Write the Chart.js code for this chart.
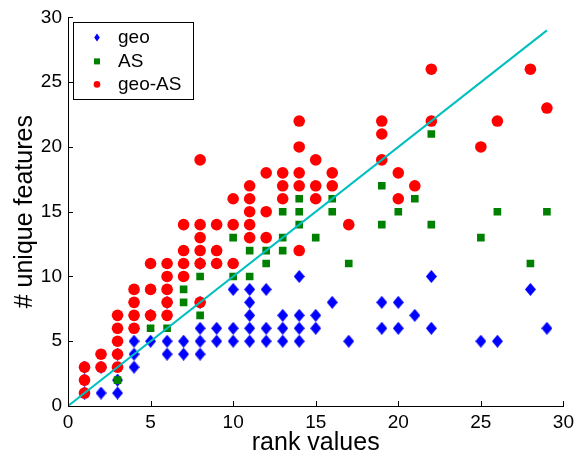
<!DOCTYPE html>
<html>
<head>
<meta charset="utf-8">
<script src="https://cdn.jsdelivr.net/npm/chart.js@4.4.1/dist/chart.umd.min.js"></script>
<style>
  html, body { margin: 0; padding: 0; background: #fff; }
  #wrap { width: 579px; height: 461px; }
</style>
</head>
<body>
<div id="wrap"><canvas id="chart-scatter" width="579" height="461"></canvas></div>
<script>
// ---- data ----
const geoRank  = [1,1,1, 2,2, 3,3,3, 4,4,4, 5,5, 6,6,6, 7,7, 8,8,8,8,8, 9,9, 10,10,10, 11,11,11,11,11, 12,12,12, 13,13,13, 14,14,14,14, 15,15, 16, 17, 19,19, 20,20, 21, 22,22, 25, 26, 28, 29];
const geoCount = [1,2,3, 1,3, 1,2,4, 3,4,5, 5,7, 4,5,8, 4,5, 4,5,6,8,11, 5,6, 5,6,9,   5,6,7,8,9,      5,6,9,    5,6,7,    5,6,7,10,    6,7,   8,  5,  6,8,   6,8,   7,  6,10,  5,  5,  9,  6];

const asRank  = [3, 5,5, 6, 7,7, 8,8, 10,10, 11,11, 12,12, 13,13,13, 14,14,14,14, 15, 16,16, 17, 19,19, 20, 21, 22,22, 25, 26, 28, 29];
const asCount = [2, 6,9, 6, 8,9, 7,10, 10,13, 10,12, 11,12, 12,13,15, 14,15,16,18, 13, 15,16, 11, 14,17, 15, 16, 14,21, 13, 15, 11, 15];

const geoAsRank  = [1,1,1, 2,2, 3,3,3,3,3, 4,4,4,4, 5,5,5, 6,6,6,6,6, 7,7,7,7, 8,8,8,8,8,8, 9,9,9, 10,10,10, 11,11,11,11,11, 12,12,12, 13,13,13, 14,14,14,14,14, 15,15,15, 16,16, 17, 19,19,19, 20,20, 21, 22,22, 25, 26, 28, 29];
const geoAsCount = [1,2,3, 3,4, 3,4,5,6,7, 6,7,8,9,  7,9,11, 7,8,9,10,11, 10,11,12,14, 8,11,12,13,14,19, 11,12,14, 11,14,16, 13,14,15,16,17, 13,15,18, 16,17,18, 12,17,18,20,22, 16,17,19, 17,18, 14, 19,21,22, 16,18, 17, 22,26, 20, 22, 26, 23];

const fitRank  = [0, 29];
const fitCount = [0, 29];

const xTicks = [0, 5, 10, 15, 20, 25, 30];
const yTicks = [0, 5, 10, 15, 20, 25, 30];

const seriesNames = ["geo", "AS", "geo-AS"];

function zip(xs, ys) {
  return xs.map((x, i) => ({ x: x, y: ys[i] }));
}

// MATLAB-like diamond (taller than wide)
function diamondImage(w, h, color) {
  const c = document.createElement("canvas");
  c.width = w; c.height = h;
  const g = c.getContext("2d");
  g.fillStyle = color;
  g.beginPath();
  g.moveTo(w / 2, 0);
  g.lineTo(w, h / 2);
  g.lineTo(w / 2, h);
  g.lineTo(0, h / 2);
  g.closePath();
  g.fill();
  return c;
}

const FONT = "'Liberation Sans', Arial, Helvetica, sans-serif";

// inward tick marks, no box
const innerTicks = {
  id: "innerTicks",
  afterDraw(chart) {
    const { ctx, chartArea, scales } = chart;
    ctx.save();
    ctx.strokeStyle = "#000";
    ctx.lineWidth = 1;
    ctx.beginPath();
    xTicks.forEach((v) => {
      const px = Math.round(scales.x.getPixelForValue(v)) + 0.5;
      ctx.moveTo(px, chartArea.bottom);
      ctx.lineTo(px, chartArea.bottom - 5);
    });
    yTicks.forEach((v) => {
      const py = Math.round(scales.y.getPixelForValue(v)) + 0.5;
      ctx.moveTo(chartArea.left, py);
      ctx.lineTo(chartArea.left + 5, py);
    });
    ctx.stroke();
    ctx.restore();
  },
};

// boxed legend in the upper left corner
const boxLegend = {
  id: "boxLegend",
  afterDraw(chart) {
    const { ctx, chartArea } = chart;
    const x0 = chartArea.left + 5, y0 = chartArea.top + 5;
    const w = 120, h = 77;
    ctx.save();
    ctx.fillStyle = "#fff";
    ctx.fillRect(x0, y0, w, h);
    ctx.strokeStyle = "#000";
    ctx.lineWidth = 1;
    ctx.strokeRect(Math.round(x0) + 0.5, Math.round(y0) + 0.5, w, h);

    const mx = x0 + 24, tx = x0 + 45;
    const rows = [y0 + 15, y0 + 39, y0 + 62];
    ctx.font = "19px " + FONT;
    ctx.textBaseline = "middle";
    ctx.fillStyle = "#000";
    seriesNames.forEach((name, i) => {
      ctx.fillText(name, tx, rows[i]);
    });

    // markers
    ctx.fillStyle = "#0000FF";
    ctx.beginPath();
    ctx.moveTo(mx, rows[0] - 4);
    ctx.lineTo(mx + 2.8, rows[0]);
    ctx.lineTo(mx, rows[0] + 4);
    ctx.lineTo(mx - 2.8, rows[0]);
    ctx.closePath();
    ctx.fill();

    ctx.fillStyle = "#008000";
    ctx.fillRect(mx - 3, rows[1] - 3, 6, 6);

    ctx.fillStyle = "#FF0000";
    ctx.beginPath();
    ctx.arc(mx, rows[2], 3.3, 0, Math.PI * 2);
    ctx.fill();
    ctx.restore();
  },
};

const canvas = document.getElementById("chart-scatter");
const ctx = canvas.getContext("2d");

new Chart(ctx, {
  type: "scatter",
  data: {
    datasets: [
      {
        label: seriesNames[0],
        data: zip(geoRank, geoCount),
        pointStyle: diamondImage(11, 13, "#0000FF"),
        pointRadius: 6,
        order: 3,
      },
      {
        label: seriesNames[1],
        data: zip(asRank, asCount),
        pointStyle: "rect",
        pointRadius: 5.4,
        backgroundColor: "#008000",
        borderWidth: 0,
        order: 2,
      },
      {
        label: seriesNames[2],
        data: zip(geoAsRank, geoAsCount),
        pointStyle: "circle",
        pointRadius: 5.8,
        backgroundColor: "#FF0000",
        borderWidth: 0,
        order: 1,
      },
      {
        label: "fit",
        data: zip(fitRank, fitCount),
        showLine: true,
        borderColor: "#00BFBF",
        borderWidth: 2,
        pointRadius: 0,
        order: 0,
      },
    ],
  },
  options: {
    responsive: false,
    animation: false,
    events: [],
    layout: { padding: { left: 0, right: 12, top: 13, bottom: 0 } },
    plugins: {
      legend: { display: false },
      tooltip: { enabled: false },
    },
    scales: {
      x: {
        type: "linear",
        min: 0,
        max: 30,
        grid: { display: false, drawTicks: false },
        border: { display: true, color: "#000", width: 1 },
        ticks: {
          stepSize: 5,
          padding: 5,
          color: "#000",
          font: { size: 19, family: FONT },
          maxRotation: 0,
        },
        title: {
          display: true,
          text: "rank values",
          color: "#000",
          font: { size: 25, family: FONT },
          padding: { top: 0, bottom: 3 },
        },
        afterFit: (scale) => { scale.height = 55; },
      },
      y: {
        type: "linear",
        min: 0,
        max: 30,
        grid: { display: false, drawTicks: false },
        border: { display: true, color: "#000", width: 1 },
        ticks: {
          stepSize: 5,
          padding: 6,
          color: "#000",
          font: { size: 19, family: FONT },
        },
        title: {
          display: true,
          text: "# unique features",
          color: "#000",
          font: { size: 25, family: FONT },
          padding: { top: 10, bottom: 0 },
        },
        afterFit: (scale) => { scale.width = 68; },
      },
    },
  },
  plugins: [innerTicks, boxLegend],
});
</script>
</body>
</html>
